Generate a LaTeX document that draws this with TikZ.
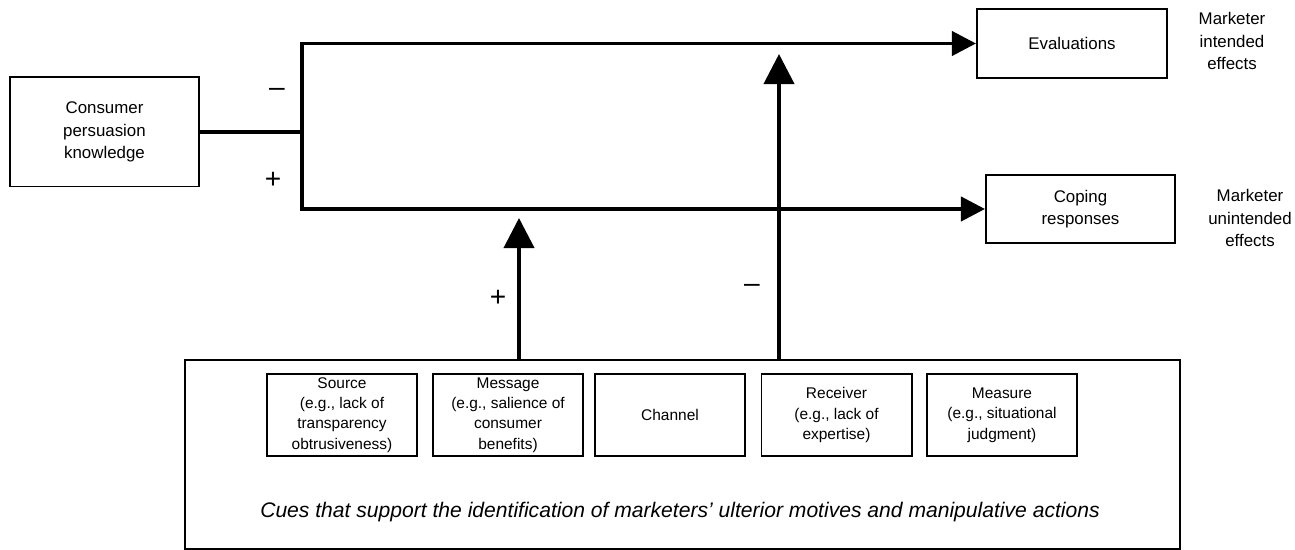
\documentclass[tikz,border=0pt]{standalone}
\usepackage{fontspec}
\setmainfont{Liberation Sans}
\usetikzlibrary{arrows.meta}

\begin{document}
\begin{tikzpicture}[x=0.025cm, y=-0.025cm, main box/.style={draw, line width=1.4pt, align=center, inner sep=0pt, font=\fontsize{12}{16}\selectfont}, cue box/.style={draw, line width=1.4pt, align=center, inner sep=0pt, minimum width=3.75cm, minimum height=2.05cm, font=\fontsize{11}{14.5}\selectfont}, flow/.style={line width=2.8pt, line cap=rect}, h arrow/.style={flow, -{Triangle[length=0.6cm, width=0.6cm]}}, v arrow/.style={flow, -{Triangle[length=0.75cm, width=0.75cm]}}, sign/.style={font=\fontsize{20}{20}\selectfont}, effect/.style={align=center, font=\fontsize{12}{16}\selectfont}]
\useasboundingbox (0,0) rectangle (1295,550);
\node[main box, minimum width=4.725cm, minimum height=2.725cm] (cpk) at (104.5,132) {Consumer\\persuasion\\knowledge};
\node[main box, minimum width=4.75cm, minimum height=1.725cm] (eval) at (1072,43.5) {Evaluations};
\node[main box, minimum width=4.725cm, minimum height=1.7cm] (cope) at (1080.5,209) {Coping\\responses};
\node[effect] (intended) at (1232,41) {Marketer\\intended\\effects};
\node[effect] (unintended) at (1250,218) {Marketer\\unintended\\effects};
\node[draw, line width=1.2pt, minimum width=24.875cm, minimum height=4.725cm] (cues) at (682.5,454.5) {};
\node[cue box] (src) at (342,415) {Source\\(e.g., lack of\\transparency\\obtrusiveness)};
\node[cue box] (msg) at (508,415) {Message\\(e.g., salience of\\consumer\\benefits)};
\node[cue box] (chan) at (670,415) {Channel};
\node[cue box] (recv) at (836.5,415) {Receiver\\(e.g., lack of\\expertise)};
\node[cue box] (meas) at (1002,415) {Measure\\(e.g., situational\\judgment)};
\node[font=\fontsize{15}{18}\selectfont\itshape] (cuetext) at (680,512) {Cues that support the identification of marketers’ ulterior motives and manipulative actions};
\coordinate (split) at (302,132);
\coordinate (tipA) at (519,218);
\coordinate (tipB) at (779,54);
\node[sign] (minusA) at (277,92) {–};
\node[sign] (plusA) at (273,180) {+};
\node[sign] (plusB) at (498,298) {+};
\node[sign] (minusB) at (752,288) {–};
\draw[flow] (cpk.east) -- (split);
\draw[h arrow] (split) |- (eval.west);
\draw[h arrow] (split) |- (cope.west);
\draw[v arrow] (cues.north -| tipA) -- (tipA);
\draw[v arrow] (cues.north -| tipB) -- (tipB);
\end{tikzpicture}
\end{document}
